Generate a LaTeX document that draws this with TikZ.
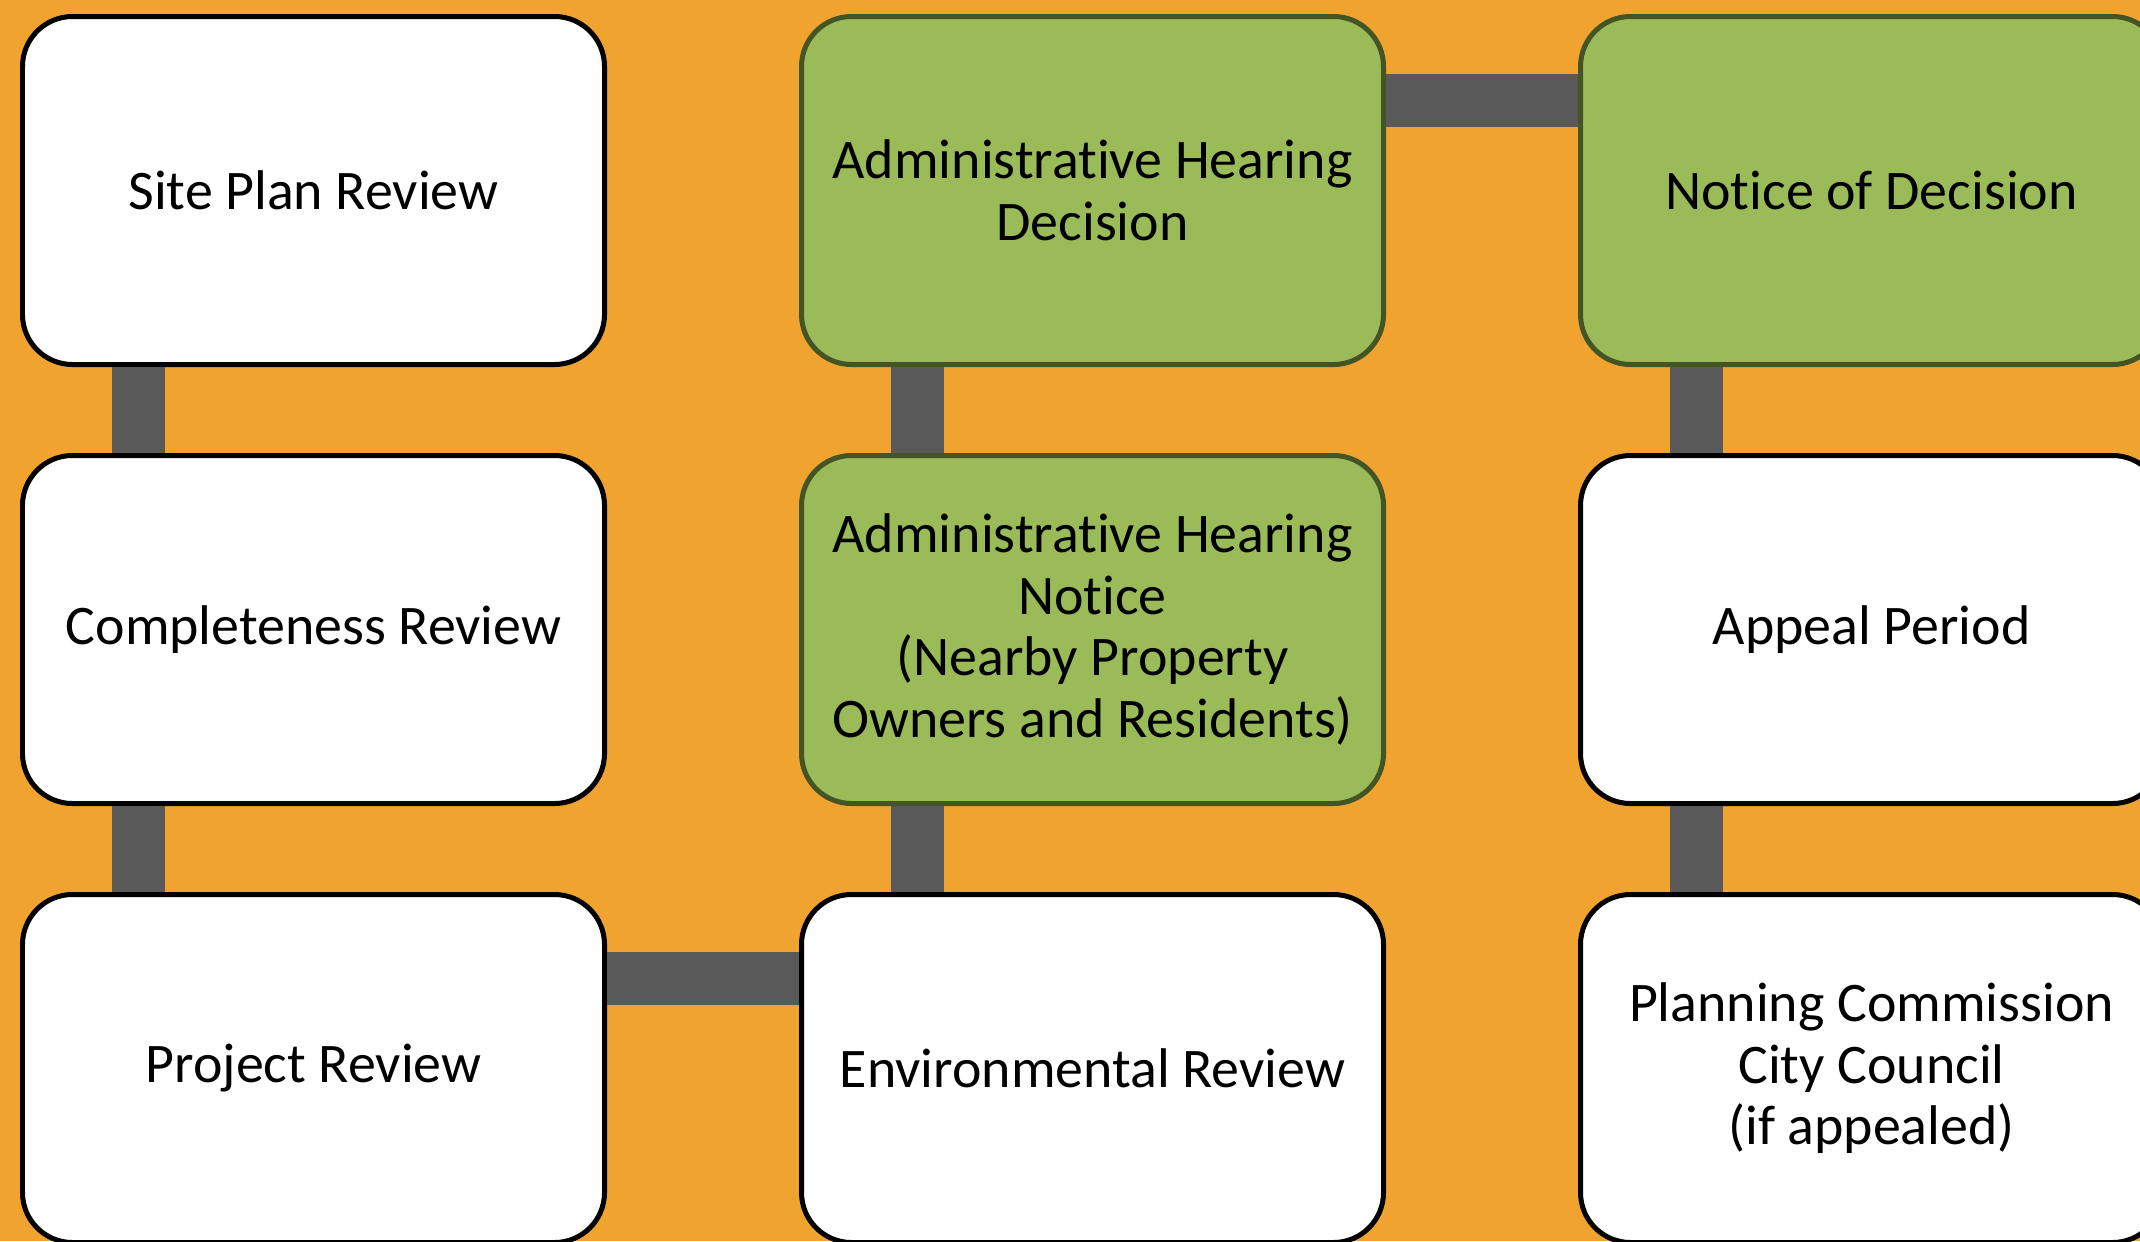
\documentclass[tikz,border=0pt]{standalone}
\usepackage{fontspec}
\setmainfont{Carlito}[Ligatures={NoCommon}]
\usetikzlibrary{positioning}

\definecolor{bgorange}{HTML}{F0A42F}
\definecolor{stepgreen}{HTML}{9BBB59}
\definecolor{stepedge}{HTML}{435425}
\definecolor{linkgray}{HTML}{595959}

\tikzset{
  stepbox/.style={draw=black, fill=white, line width=0.5mm, rounded corners=0.5cm,
    minimum width=5.82cm, minimum height=3.48cm, align=center,
    font=\fontsize{15.9}{17.5}\selectfont},
  greenbox/.style={stepbox, draw=stepedge, fill=stepgreen},
  link/.style={linkgray, line width=0.53cm}
}

\begin{document}
\begin{tikzpicture}[node distance=0.86cm and 1.92cm]
  \useasboundingbox (0,0) rectangle (21.4,-12.41);
  \clip (0,0) rectangle (21.4,-12.41);
  \fill[bgorange] (0,0) rectangle (21.4,-12.41);

  \node[stepbox, anchor=north west] (site) at (0.2,-0.14) {Site Plan Review};
  \node[stepbox, below=of site] (complete) {Completeness Review};
  \node[stepbox, below=of complete] (project) {Project Review};
  \node[stepbox, right=of project] (environ) {Environmental Review};
  \node[greenbox, above=of environ] (hearnotice) {Administrative Hearing\\Notice\\(Nearby Property\\Owners and Residents)};
  \node[greenbox, above=of hearnotice] (hearing) {Administrative Hearing\\Decision};
  \node[greenbox, right=of hearing] (decision) {Notice of Decision};
  \node[stepbox, below=of decision] (appeal) {Appeal Period};
  \node[stepbox, below=of appeal] (council) {Planning Commission\\City Council\\(if appealed)};

  % connecting bars
  \draw[link] ([xshift=1.185cm]site.south west) -- ([xshift=1.185cm]complete.north west);
  \draw[link] ([xshift=1.185cm]complete.south west) -- ([xshift=1.185cm]project.north west);
  \draw[link] ([yshift=-0.865cm]project.north east) -- ([yshift=-0.865cm]environ.north west);
  \draw[link] ([xshift=1.185cm]environ.north west) -- ([xshift=1.185cm]hearnotice.south west);
  \draw[link] ([xshift=1.185cm]hearnotice.north west) -- ([xshift=1.185cm]hearing.south west);
  \draw[link] ([yshift=-0.865cm]hearing.north east) -- ([yshift=-0.865cm]decision.north west);
  \draw[link] ([xshift=1.185cm]decision.south west) -- ([xshift=1.185cm]appeal.north west);
  \draw[link] ([xshift=1.185cm]appeal.south west) -- ([xshift=1.185cm]council.north west);
\end{tikzpicture}
\end{document}
